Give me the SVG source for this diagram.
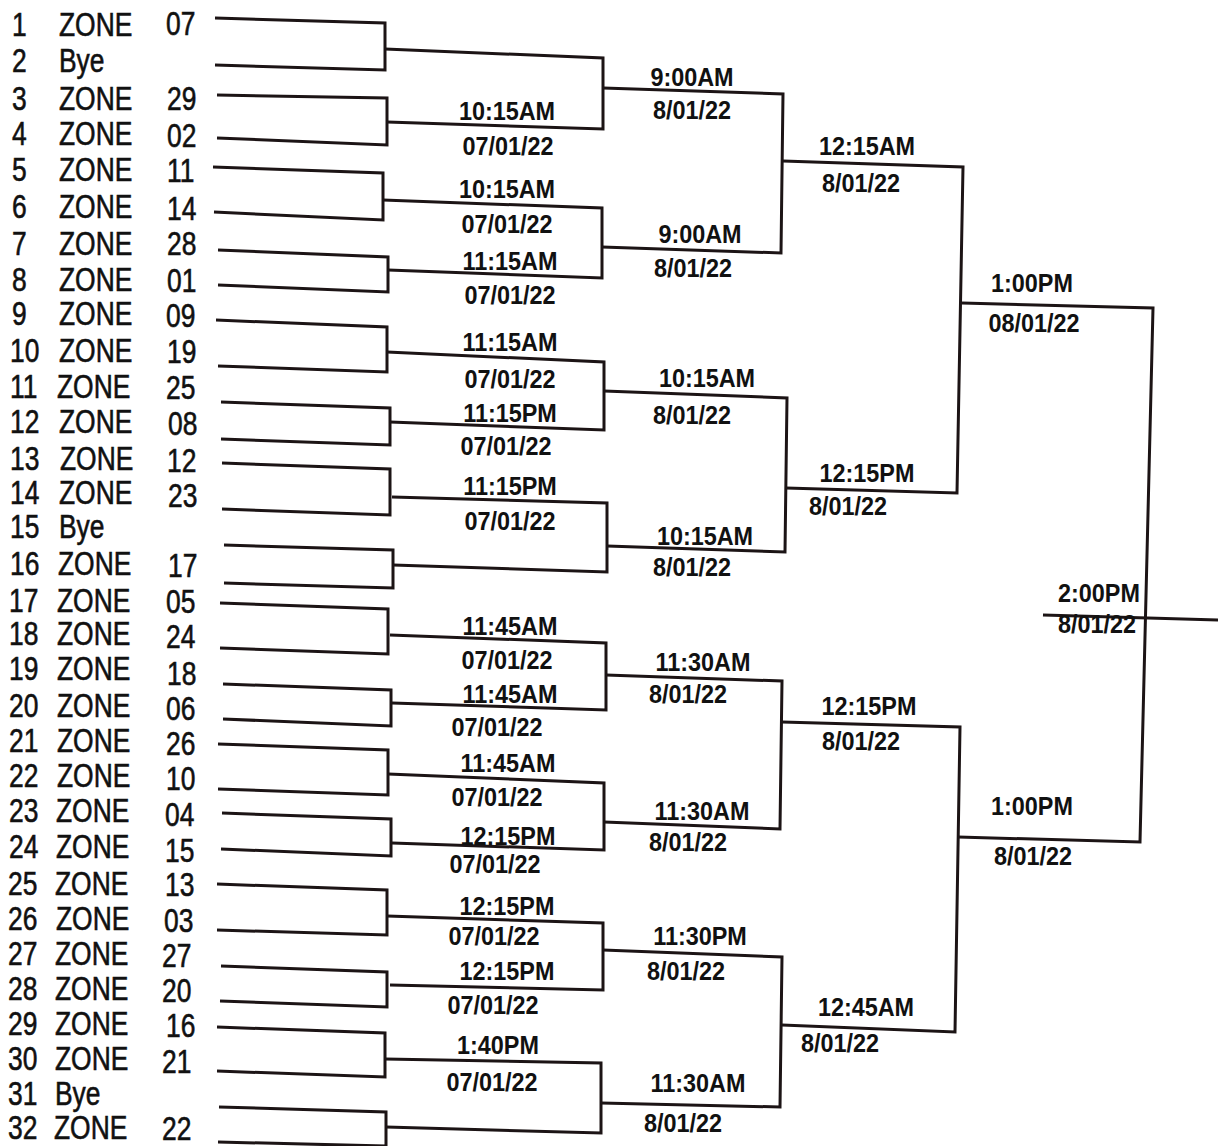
<svg xmlns="http://www.w3.org/2000/svg" width="1218" height="1146" viewBox="0 0 1218 1146">
<style>
.ln{fill:none;stroke:#1c1415;stroke-width:3;stroke-linejoin:miter;stroke-linecap:butt}
.e{font-family:"Liberation Sans",Arial,sans-serif;font-size:33px;fill:#111;stroke:#111;stroke-width:0.6}
.l{font-family:"Liberation Sans",Arial,sans-serif;font-size:26px;font-weight:bold;fill:#111;text-anchor:middle}
</style>
<rect width="1218" height="1146" fill="#ffffff"/>
<g id="connectors">
<path class="ln" d="M215 18 L385 23 L385 70 L215 65"/>
<path class="ln" d="M217 95 L387 98 L387 145 L217 138"/>
<path class="ln" d="M213 167 L383 173 L383 220 L214 212"/>
<path class="ln" d="M218 250 L388 257 L388 292 L218 285"/>
<path class="ln" d="M216 320 L387 327 L387 372 L218 366"/>
<path class="ln" d="M221 402 L390 408 L390 445 L221 439"/>
<path class="ln" d="M222 463 L390 469 L390 515 L222 509"/>
<path class="ln" d="M224 545 L393 550 L393 588 L224 583"/>
<path class="ln" d="M220 603 L388 609 L388 654 L220 648"/>
<path class="ln" d="M223 684 L391 690 L391 726 L223 719"/>
<path class="ln" d="M218 744 L388 750 L388 795 L218 789"/>
<path class="ln" d="M222 813 L391 819 L391 856 L221 849"/>
<path class="ln" d="M217 884 L387 890 L387 935 L217 930"/>
<path class="ln" d="M221 966 L387 972 L387 1007 L220 1001"/>
<path class="ln" d="M217 1027 L385 1033 L385 1077 L217 1071"/>
<path class="ln" d="M219 1107 L386 1112 L386 1146 L218 1142"/>
<path class="ln" d="M385 49 L603 58 L603 129 L387 122"/>
<path class="ln" d="M383 200 L602 208 L602 278 L388 270"/>
<path class="ln" d="M387 352 L604 362 L604 430 L390 422"/>
<path class="ln" d="M392 497 L607 503 L607 572 L393 565"/>
<path class="ln" d="M390 635 L606 643 L606 710 L392 703"/>
<path class="ln" d="M388 774 L604 783 L604 850 L392 843"/>
<path class="ln" d="M387 916 L603 923 L603 990 L390 985"/>
<path class="ln" d="M385 1059 L601 1063 L601 1133 L386 1127"/>
<path class="ln" d="M603 88 L783 94 L781 253 L602 247"/>
<path class="ln" d="M604 391 L787 398 L785 552 L607 546"/>
<path class="ln" d="M606 675 L782 681 L780 829 L604 822"/>
<path class="ln" d="M603 950 L782 957 L780 1107 L601 1103"/>
<path class="ln" d="M783 161 L963 167 L957 493 L786 488"/>
<path class="ln" d="M782 722 L960 727 L955 1032 L782 1025"/>
<path class="ln" d="M962 303 L1153 308 L1140 842 L958 837"/>
<path class="ln" d="M1043 615 L1218 620"/>
</g>
<g id="entrants">
<g id="e1"><text class="e" transform="translate(12,36) scale(.8,1)">1</text><text class="e" transform="translate(59,36) scale(.8,1)">ZONE</text><text class="e" transform="translate(166,35) scale(.8,1)">07</text></g>
<g id="e2"><text class="e" transform="translate(12,72) scale(.8,1)">2</text><text class="e" transform="translate(59,72) scale(.8,1)">Bye</text></g>
<g id="e3"><text class="e" transform="translate(12,110) scale(.8,1)">3</text><text class="e" transform="translate(59,110) scale(.8,1)">ZONE</text><text class="e" transform="translate(167,110) scale(.8,1)">29</text></g>
<g id="e4"><text class="e" transform="translate(12,145) scale(.8,1)">4</text><text class="e" transform="translate(59,145) scale(.8,1)">ZONE</text><text class="e" transform="translate(167,147) scale(.8,1)">02</text></g>
<g id="e5"><text class="e" transform="translate(12,181) scale(.8,1)">5</text><text class="e" transform="translate(59,181) scale(.8,1)">ZONE</text><text class="e" transform="translate(167,182) scale(.8,1)">11</text></g>
<g id="e6"><text class="e" transform="translate(12,218) scale(.8,1)">6</text><text class="e" transform="translate(59,218) scale(.8,1)">ZONE</text><text class="e" transform="translate(167,220) scale(.8,1)">14</text></g>
<g id="e7"><text class="e" transform="translate(12,255) scale(.8,1)">7</text><text class="e" transform="translate(59,255) scale(.8,1)">ZONE</text><text class="e" transform="translate(167,255) scale(.8,1)">28</text></g>
<g id="e8"><text class="e" transform="translate(12,291) scale(.8,1)">8</text><text class="e" transform="translate(59,291) scale(.8,1)">ZONE</text><text class="e" transform="translate(167,292) scale(.8,1)">01</text></g>
<g id="e9"><text class="e" transform="translate(12,325) scale(.8,1)">9</text><text class="e" transform="translate(59,325) scale(.8,1)">ZONE</text><text class="e" transform="translate(166,327) scale(.8,1)">09</text></g>
<g id="e10"><text class="e" transform="translate(10,362) scale(.8,1)">10</text><text class="e" transform="translate(59,362) scale(.8,1)">ZONE</text><text class="e" transform="translate(167,363) scale(.8,1)">19</text></g>
<g id="e11"><text class="e" transform="translate(10,398) scale(.8,1)">11</text><text class="e" transform="translate(57,398) scale(.8,1)">ZONE</text><text class="e" transform="translate(166,399) scale(.8,1)">25</text></g>
<g id="e12"><text class="e" transform="translate(10,433) scale(.8,1)">12</text><text class="e" transform="translate(59,433) scale(.8,1)">ZONE</text><text class="e" transform="translate(168,435) scale(.8,1)">08</text></g>
<g id="e13"><text class="e" transform="translate(10,470) scale(.8,1)">13</text><text class="e" transform="translate(60,470) scale(.8,1)">ZONE</text><text class="e" transform="translate(167,472) scale(.8,1)">12</text></g>
<g id="e14"><text class="e" transform="translate(10,504) scale(.8,1)">14</text><text class="e" transform="translate(59,504) scale(.8,1)">ZONE</text><text class="e" transform="translate(168,507) scale(.8,1)">23</text></g>
<g id="e15"><text class="e" transform="translate(10,538) scale(.8,1)">15</text><text class="e" transform="translate(59,538) scale(.8,1)">Bye</text></g>
<g id="e16"><text class="e" transform="translate(10,575) scale(.8,1)">16</text><text class="e" transform="translate(58,575) scale(.8,1)">ZONE</text><text class="e" transform="translate(168,577) scale(.8,1)">17</text></g>
<g id="e17"><text class="e" transform="translate(9,612) scale(.8,1)">17</text><text class="e" transform="translate(57,612) scale(.8,1)">ZONE</text><text class="e" transform="translate(166,613) scale(.8,1)">05</text></g>
<g id="e18"><text class="e" transform="translate(9,645) scale(.8,1)">18</text><text class="e" transform="translate(57,645) scale(.8,1)">ZONE</text><text class="e" transform="translate(166,648) scale(.8,1)">24</text></g>
<g id="e19"><text class="e" transform="translate(9,680) scale(.8,1)">19</text><text class="e" transform="translate(57,680) scale(.8,1)">ZONE</text><text class="e" transform="translate(167,685) scale(.8,1)">18</text></g>
<g id="e20"><text class="e" transform="translate(9,717) scale(.8,1)">20</text><text class="e" transform="translate(57,717) scale(.8,1)">ZONE</text><text class="e" transform="translate(166,720) scale(.8,1)">06</text></g>
<g id="e21"><text class="e" transform="translate(9,752) scale(.8,1)">21</text><text class="e" transform="translate(57,752) scale(.8,1)">ZONE</text><text class="e" transform="translate(166,755) scale(.8,1)">26</text></g>
<g id="e22"><text class="e" transform="translate(9,787) scale(.8,1)">22</text><text class="e" transform="translate(57,787) scale(.8,1)">ZONE</text><text class="e" transform="translate(166,790) scale(.8,1)">10</text></g>
<g id="e23"><text class="e" transform="translate(9,822) scale(.8,1)">23</text><text class="e" transform="translate(56,822) scale(.8,1)">ZONE</text><text class="e" transform="translate(165,826) scale(.8,1)">04</text></g>
<g id="e24"><text class="e" transform="translate(9,858) scale(.8,1)">24</text><text class="e" transform="translate(56,858) scale(.8,1)">ZONE</text><text class="e" transform="translate(165,862) scale(.8,1)">15</text></g>
<g id="e25"><text class="e" transform="translate(8,895) scale(.8,1)">25</text><text class="e" transform="translate(55,895) scale(.8,1)">ZONE</text><text class="e" transform="translate(165,896) scale(.8,1)">13</text></g>
<g id="e26"><text class="e" transform="translate(8,930) scale(.8,1)">26</text><text class="e" transform="translate(56,930) scale(.8,1)">ZONE</text><text class="e" transform="translate(164,932) scale(.8,1)">03</text></g>
<g id="e27"><text class="e" transform="translate(8,965) scale(.8,1)">27</text><text class="e" transform="translate(55,965) scale(.8,1)">ZONE</text><text class="e" transform="translate(162,967) scale(.8,1)">27</text></g>
<g id="e28"><text class="e" transform="translate(8,1000) scale(.8,1)">28</text><text class="e" transform="translate(55,1000) scale(.8,1)">ZONE</text><text class="e" transform="translate(162,1002) scale(.8,1)">20</text></g>
<g id="e29"><text class="e" transform="translate(8,1035) scale(.8,1)">29</text><text class="e" transform="translate(55,1035) scale(.8,1)">ZONE</text><text class="e" transform="translate(166,1037) scale(.8,1)">16</text></g>
<g id="e30"><text class="e" transform="translate(8,1070) scale(.8,1)">30</text><text class="e" transform="translate(55,1070) scale(.8,1)">ZONE</text><text class="e" transform="translate(162,1073) scale(.8,1)">21</text></g>
<g id="e31"><text class="e" transform="translate(8,1105) scale(.8,1)">31</text><text class="e" transform="translate(55,1105) scale(.8,1)">Bye</text></g>
<g id="e32"><text class="e" transform="translate(8,1139) scale(.8,1)">32</text><text class="e" transform="translate(54,1139) scale(.8,1)">ZONE</text><text class="e" transform="translate(162,1140) scale(.8,1)">22</text></g>
</g>
<g id="round2">
<g id="m2"><text class="l" transform="translate(507,120) scale(.9,1)">10:15AM</text><text class="l" transform="translate(508,155) scale(.9,1)">07/01/22</text></g>
<g id="m3"><text class="l" transform="translate(507,198) scale(.9,1)">10:15AM</text><text class="l" transform="translate(507,233) scale(.9,1)">07/01/22</text></g>
<g id="m4"><text class="l" transform="translate(510,270) scale(.9,1)">11:15AM</text><text class="l" transform="translate(510,304) scale(.9,1)">07/01/22</text></g>
<g id="m5"><text class="l" transform="translate(510,351) scale(.9,1)">11:15AM</text><text class="l" transform="translate(510,388) scale(.9,1)">07/01/22</text></g>
<g id="m6"><text class="l" transform="translate(510,422) scale(.9,1)">11:15PM</text><text class="l" transform="translate(506,455) scale(.9,1)">07/01/22</text></g>
<g id="m7"><text class="l" transform="translate(510,495) scale(.9,1)">11:15PM</text><text class="l" transform="translate(510,530) scale(.9,1)">07/01/22</text></g>
<g id="m9"><text class="l" transform="translate(510,635) scale(.9,1)">11:45AM</text><text class="l" transform="translate(507,669) scale(.9,1)">07/01/22</text></g>
<g id="m10"><text class="l" transform="translate(510,703) scale(.9,1)">11:45AM</text><text class="l" transform="translate(497,736) scale(.9,1)">07/01/22</text></g>
<g id="m11"><text class="l" transform="translate(508,772) scale(.9,1)">11:45AM</text><text class="l" transform="translate(497,806) scale(.9,1)">07/01/22</text></g>
<g id="m12"><text class="l" transform="translate(508,845) scale(.9,1)">12:15PM</text><text class="l" transform="translate(495,873) scale(.9,1)">07/01/22</text></g>
<g id="m13"><text class="l" transform="translate(507,915) scale(.9,1)">12:15PM</text><text class="l" transform="translate(494,945) scale(.9,1)">07/01/22</text></g>
<g id="m14"><text class="l" transform="translate(507,980) scale(.9,1)">12:15PM</text><text class="l" transform="translate(493,1014) scale(.9,1)">07/01/22</text></g>
<g id="m15"><text class="l" transform="translate(498,1054) scale(.9,1)">1:40PM</text><text class="l" transform="translate(492,1091) scale(.9,1)">07/01/22</text></g>
</g>
<g id="round3">
<g id="r3a"><text class="l" transform="translate(692,86) scale(.9,1)">9:00AM</text><text class="l" transform="translate(692,119) scale(.9,1)">8/01/22</text></g>
<g id="r3b"><text class="l" transform="translate(700,243) scale(.9,1)">9:00AM</text><text class="l" transform="translate(693,277) scale(.9,1)">8/01/22</text></g>
<g id="r3c"><text class="l" transform="translate(707,387) scale(.9,1)">10:15AM</text><text class="l" transform="translate(692,424) scale(.9,1)">8/01/22</text></g>
<g id="r3d"><text class="l" transform="translate(705,545) scale(.9,1)">10:15AM</text><text class="l" transform="translate(692,576) scale(.9,1)">8/01/22</text></g>
<g id="r3e"><text class="l" transform="translate(703,671) scale(.9,1)">11:30AM</text><text class="l" transform="translate(688,703) scale(.9,1)">8/01/22</text></g>
<g id="r3f"><text class="l" transform="translate(702,820) scale(.9,1)">11:30AM</text><text class="l" transform="translate(688,851) scale(.9,1)">8/01/22</text></g>
<g id="r3g"><text class="l" transform="translate(700,945) scale(.9,1)">11:30PM</text><text class="l" transform="translate(686,980) scale(.9,1)">8/01/22</text></g>
<g id="r3h"><text class="l" transform="translate(698,1092) scale(.9,1)">11:30AM</text><text class="l" transform="translate(683,1132) scale(.9,1)">8/01/22</text></g>
</g>
<g id="round4">
<g id="r4a"><text class="l" transform="translate(867,155) scale(.9,1)">12:15AM</text><text class="l" transform="translate(861,192) scale(.9,1)">8/01/22</text></g>
<g id="r4b"><text class="l" transform="translate(867,482) scale(.9,1)">12:15PM</text><text class="l" transform="translate(848,515) scale(.9,1)">8/01/22</text></g>
<g id="r4c"><text class="l" transform="translate(869,715) scale(.9,1)">12:15PM</text><text class="l" transform="translate(861,750) scale(.9,1)">8/01/22</text></g>
<g id="r4d"><text class="l" transform="translate(866,1016) scale(.9,1)">12:45AM</text><text class="l" transform="translate(840,1052) scale(.9,1)">8/01/22</text></g>
</g>
<g id="round5">
<g id="r5a"><text class="l" transform="translate(1032,292) scale(.9,1)">1:00PM</text><text class="l" transform="translate(1034,332) scale(.9,1)">08/01/22</text></g>
<g id="r5b"><text class="l" transform="translate(1032,815) scale(.9,1)">1:00PM</text><text class="l" transform="translate(1033,865) scale(.9,1)">8/01/22</text></g>
</g>
<g id="final"><text class="l" transform="translate(1099,602) scale(.9,1)">2:00PM</text><text class="l" transform="translate(1097,633) scale(.9,1)">8/01/22</text></g>
</svg>
